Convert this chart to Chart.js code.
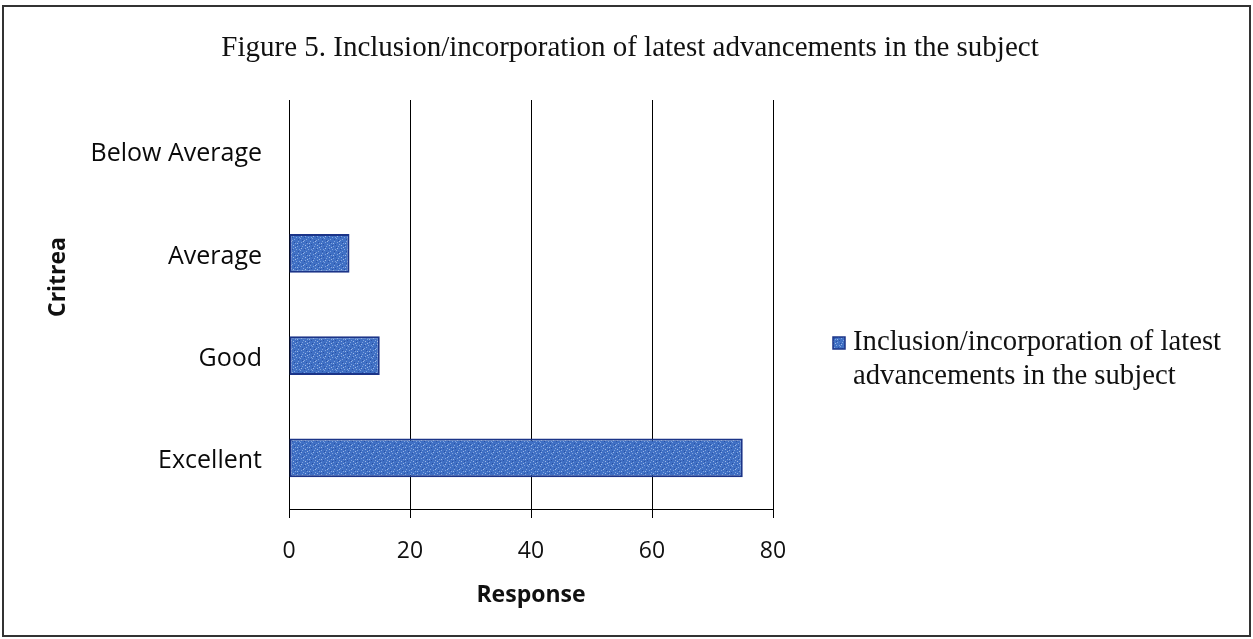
<!DOCTYPE html>
<html><head><meta charset="utf-8">
<script src="https://cdn.jsdelivr.net/npm/chart.js@4/dist/chart.umd.min.js"></script>
<style>html,body{margin:0;padding:0;background:#fff;overflow:hidden}#wrap{width:1253px;height:639px;position:relative}</style>
</head><body><div id="wrap"><canvas id="c" width="1253" height="639"></canvas></div>
<script>
const chartTitle = 'Figure 5. Inclusion/incorporation of latest advancements in the subject';
const categories = ['Below Average', 'Average', 'Good', 'Excellent'];
const seriesName = 'Inclusion/incorporation of latest advancements in the subject';
const legendLines = ['Inclusion/incorporation of latest', 'advancements in the subject'];
const responses = [0, 10, 15, 75];
const xTickValues = [0, 20, 40, 60, 80];
const xTitle = 'Response';
const yTitle = 'Critrea';

const barBase = '#4070c4';
const barEdge = '#1b3488';
const sansFont = '"Open Sans", Lato, sans-serif';
const serifFont = '"Liberation Serif", "DejaVu Serif", serif';

// speckled fill similar to the scanned texture (fixed, deterministic dot layout)
function makeTexture() {
  const n = 12;
  const cv = document.createElement('canvas');
  cv.width = n; cv.height = n;
  const g = cv.getContext('2d');
  g.fillStyle = barBase;
  g.fillRect(0, 0, n, n);
  const light = [[1,2],[4,0],[7,3],[10,1],[2,6],[5,8],[9,6],[11,9],[0,10],[6,11],[3,4],[8,9]];
  const dark = [[2,0],[6,2],[11,4],[0,7],[4,9],[8,5],[10,11]];
  g.fillStyle = '#7fa3de';
  light.forEach(([x, y]) => g.fillRect(x, y, 1, 1));
  g.fillStyle = '#9db8e6';
  [[3,1],[9,3],[1,8],[7,7],[5,5]].forEach(([x, y]) => g.fillRect(x, y, 1, 1));
  g.fillStyle = '#2a52a6';
  dark.forEach(([x, y]) => g.fillRect(x, y, 1, 1));
  return g.createPattern(cv, 'repeat');
}
const barFill = makeTexture();

const frame = {
  id: 'frame',
  beforeDraw(chart) {
    const c = chart.ctx;
    c.save();
    c.fillStyle = '#fff';
    c.fillRect(0, 0, chart.width, chart.height);
    c.strokeStyle = '#333';
    c.lineWidth = 2;
    c.strokeRect(3, 6, chart.width - 6, chart.height - 9);
    c.restore();
  }
};

const extras = {
  id: 'extras',
  afterDraw(chart) {
    const c = chart.ctx;
    const a = chart.chartArea;
    c.save();
    c.translate(58, 277);
    c.rotate(-Math.PI / 2);
    c.font = 'bold 23px ' + sansFont;
    c.fillStyle = '#111';
    c.textAlign = 'center';
    c.textBaseline = 'middle';
    c.fillText(yTitle, 0, 0);
    c.restore();
    c.save();
    const mx = a.right + 60, my = 337;
    c.fillStyle = barFill;
    c.fillRect(mx, my, 12, 12);
    c.strokeStyle = barEdge;
    c.lineWidth = 1.5;
    c.strokeRect(mx, my, 12, 12);
    c.font = '28.7px ' + serifFont;
    c.fillStyle = '#111';
    c.textAlign = 'left';
    c.textBaseline = 'middle';
    legendLines.forEach((t, i) => c.fillText(t, mx + 20, 342 + i * 34));
    c.restore();
  }
};

new Chart(document.getElementById('c'), {
  type: 'bar',
  data: {
    labels: categories,
    datasets: [{
      label: seriesName,
      data: responses,
      backgroundColor: barFill,
      borderColor: barEdge,
      borderWidth: 2,
      borderSkipped: false,
      barPercentage: 0.38,
      categoryPercentage: 1.0
    }]
  },
  options: {
    indexAxis: 'y',
    responsive: false,
    animation: false,
    devicePixelRatio: 1,
    layout: { padding: { top: 8, left: 10, right: 3, bottom: 8 } },
    plugins: {
      legend: { display: false },
      tooltip: { enabled: false },
      title: {
        display: true,
        text: chartTitle,
        color: '#111',
        font: { family: serifFont, size: 29, weight: 'normal' },
        padding: { top: 22.6, bottom: 34.6 }
      }
    },
    scales: {
      x: {
        min: 0, max: 80,
        afterBuildTicks(scale) { scale.ticks = xTickValues.map(v => ({ value: v })); },
        afterFit(scale) { scale.height = 122; },
        ticks: { color: '#111', font: { family: sansFont, size: 23 }, padding: 20, maxRotation: 0 },
        grid: { color: '#000', lineWidth: 1, tickLength: 9, drawTicks: true },
        border: { display: true, color: '#000', width: 1 },
        title: {
          display: true, text: xTitle, color: '#111',
          font: { family: sansFont, size: 23, weight: 'bold' },
          padding: { top: 0, bottom: 22 }
        }
      },
      y: {
        afterFit(scale) { scale.width = 279; },
        ticks: { color: '#0a0a0a', font: { family: sansFont, size: 25 }, padding: 27, labelOffset: 3 },
        grid: { display: false, drawTicks: false },
        border: { display: true, color: '#000', width: 1 }
      },
      legendSpace: {
        type: 'category',
        axis: 'y',
        position: 'right',
        afterFit(scale) { scale.width = 477; },
        ticks: { display: false },
        grid: { display: false, drawTicks: false },
        border: { display: false }
      }
    }
  },
  plugins: [frame, extras]
});
</script>
</body></html>
